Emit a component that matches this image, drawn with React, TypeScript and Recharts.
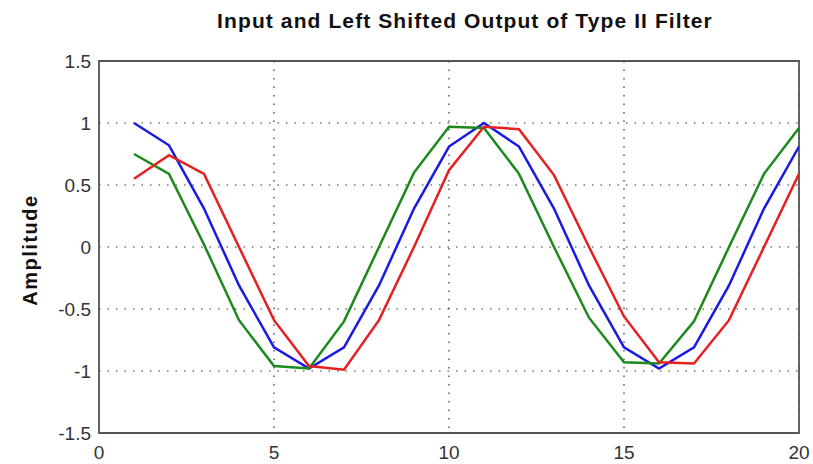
import React from "react";
import { LineChart, Line, XAxis, YAxis, CartesianGrid, ReferenceArea } from "recharts";

const sampleIndex = [1, 2, 3, 4, 5, 6, 7, 8, 9, 10, 11, 12, 13, 14, 15, 16, 17, 18, 19, 20];
const inputSignal = [1, 0.82, 0.31, -0.31, -0.81, -0.98, -0.81, -0.31, 0.31, 0.81, 1, 0.81, 0.31, -0.31, -0.81, -0.98, -0.81, -0.31, 0.31, 0.81];
const leadOutput = [0.75, 0.59, 0.02, -0.59, -0.96, -0.98, -0.6, 0, 0.6, 0.97, 0.96, 0.59, 0, -0.57, -0.93, -0.94, -0.6, 0, 0.59, 0.96];
const lagOutput = [0.55, 0.74, 0.59, 0, -0.59, -0.96, -0.99, -0.59, 0, 0.62, 0.97, 0.95, 0.58, 0, -0.56, -0.93, -0.94, -0.59, 0, 0.59];
const xTicks = [0, 5, 10, 15, 20];
const yTicks = [-1.5, -1, -0.5, 0, 0.5, 1, 1.5];
const titleText = "Input and Left Shifted Output of Type II Filter";
const yLabelText = "Amplitude";

const data = sampleIndex.map((n, i) => ({
  n,
  input: inputSignal[i],
  lead: leadOutput[i],
  lag: lagOutput[i],
}));

const fontFamily = "'Liberation Sans', Arial, sans-serif";

export default function App() {
  return (
    <div style={{ position: "absolute", left: 0, top: 0, width: 813, height: 464, background: "#fff", fontFamily }}>
      <div
        style={{
          position: "absolute",
          left: 0,
          top: 8,
          width: 930,
          textAlign: "center",
          fontWeight: "bold",
          fontSize: 21,
          lineHeight: "26px",
          color: "#111",
          letterSpacing: "1.1px",
        }}
      >
        {titleText}
      </div>
      <div
        style={{
          position: "absolute",
          left: 30,
          top: 250,
          transform: "translate(-50%, -50%) rotate(-90deg)",
          fontWeight: "bold",
          fontSize: 20,
          letterSpacing: "1.5px",
          color: "#111",
          whiteSpace: "nowrap",
        }}
      >
        {yLabelText}
      </div>
      <LineChart
        width={813}
        height={464}
        data={data}
        margin={{ top: 61, right: 14, bottom: 0, left: 39 }}
      >
        <CartesianGrid stroke="#333" strokeDasharray="1.5 7" strokeWidth={1.2} />
        <XAxis
          dataKey="n"
          type="number"
          domain={[0, 20]}
          ticks={xTicks}
          height={31}
          axisLine={false}
          tickLine={false}
          tickMargin={7}
          tick={{ fontSize: 19, fill: "#333", fontFamily }}
          allowDataOverflow
        />
        <YAxis
          type="number"
          domain={[-1.5, 1.5]}
          ticks={yTicks}
          width={60}
          axisLine={false}
          tickLine={false}
          tickMargin={2}
          tick={{ fontSize: 19, fill: "#333", fontFamily }}
          allowDataOverflow
        />
        <ReferenceArea x1={0} x2={20} y1={-1.5} y2={1.5} fill="none" stroke="#555" strokeWidth={1.8} ifOverflow="visible" />
        <Line type="linear" dataKey="input" stroke="#1a1ae6" strokeWidth={2.5} dot={false} isAnimationActive={false} />
        <Line type="linear" dataKey="lead" stroke="#1b8a1b" strokeWidth={2.5} dot={false} isAnimationActive={false} />
        <Line type="linear" dataKey="lag" stroke="#e62020" strokeWidth={2.5} dot={false} isAnimationActive={false} />
      </LineChart>
    </div>
  );
}
